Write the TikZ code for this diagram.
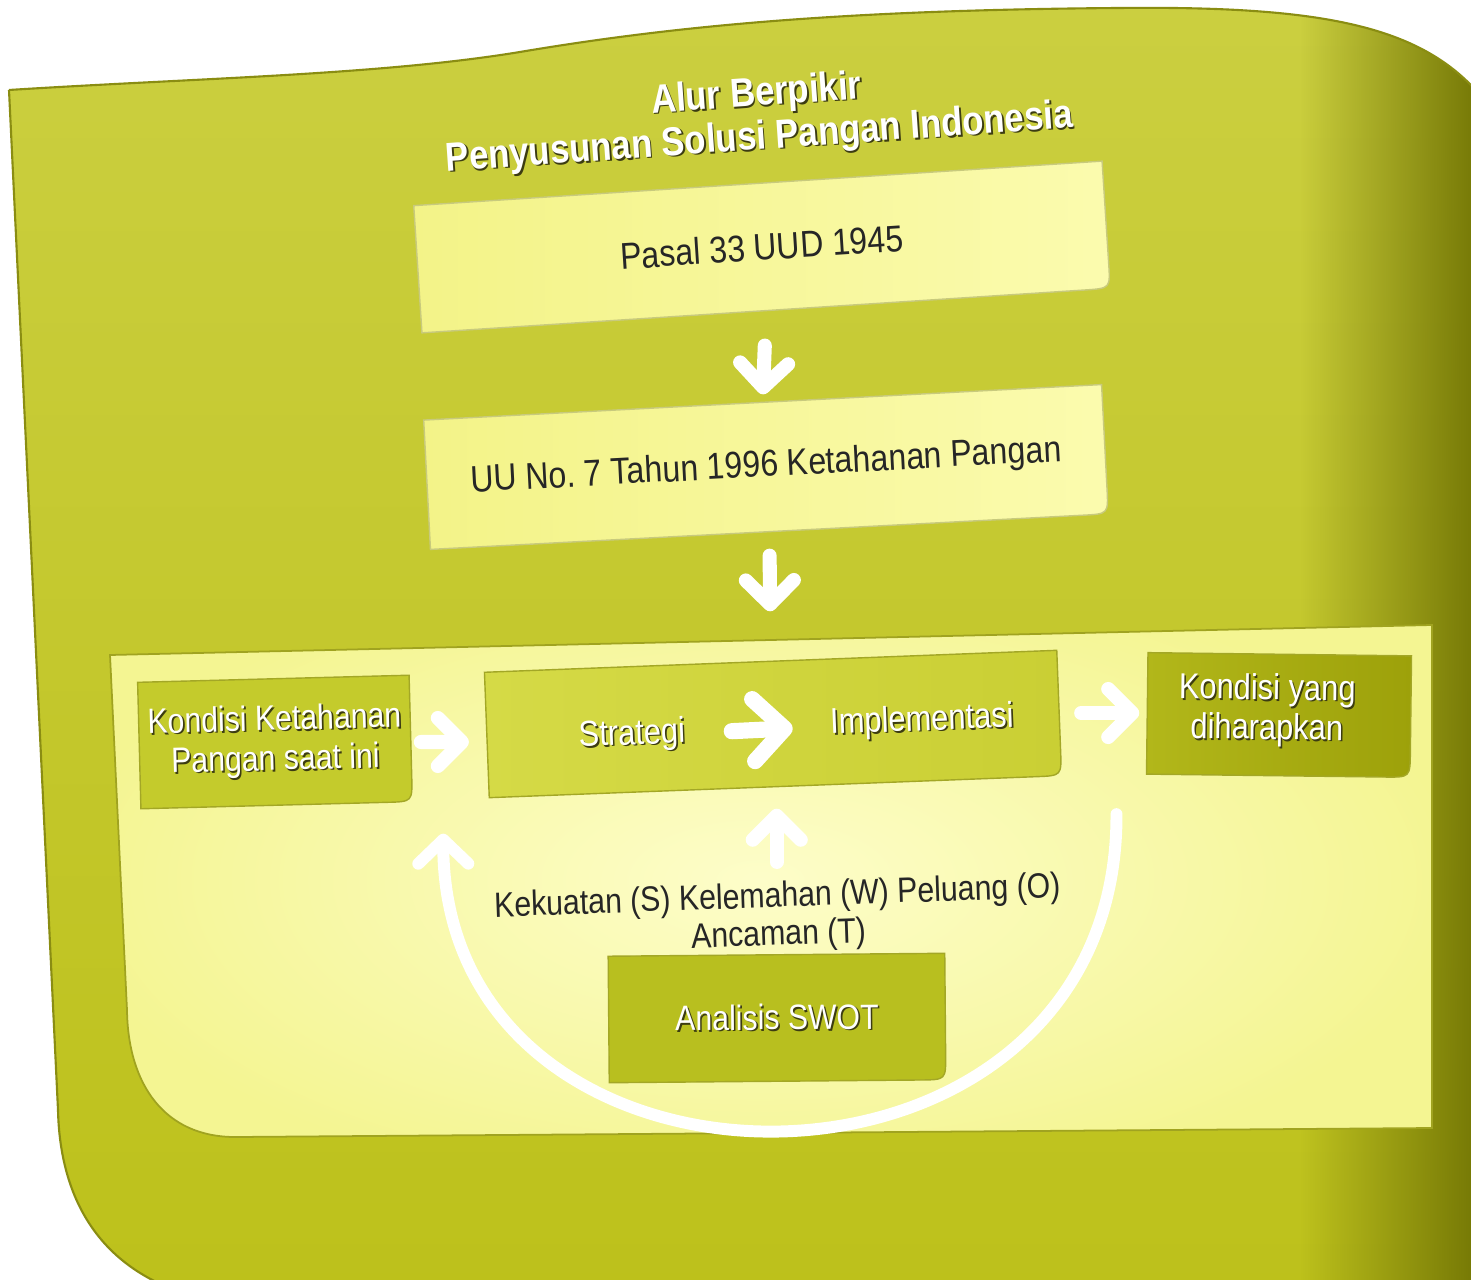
\documentclass[tikz,border=0pt]{standalone}
\usepackage{fontspec}
\setmainfont{Liberation Sans}[FakeStretch=0.86]
\usetikzlibrary{arrows.meta,calc,fadings}
\definecolor{outerA}{HTML}{CBCF40}
\definecolor{outerB}{HTML}{BDC11B}
\definecolor{darkG}{HTML}{747705}
\definecolor{outerline}{HTML}{8A8D12}
\definecolor{panelc}{HTML}{F4F592}
\definecolor{glowc}{HTML}{FDFDC9}
\definecolor{panelline}{HTML}{A0A320}
\definecolor{topA}{HTML}{F3F388}
\definecolor{topB}{HTML}{FBFBAE}
\definecolor{boxline}{HTML}{A3A726}
\definecolor{kondc}{HTML}{C4CB2C}
\definecolor{stratA}{HTML}{D5DA46}
\definecolor{stratB}{HTML}{CACF34}
\definecolor{harapA}{HTML}{B2B71A}
\definecolor{harapB}{HTML}{9DA10A}
\definecolor{swotc}{HTML}{B8BF1F}
\definecolor{txtc}{HTML}{262626}
\definecolor{shadowc}{HTML}{3C3C12}
\tikzfading[name=fadeR, left color=transparent!100, right color=transparent!0]
\pgfdeclarelayer{bottom}
\pgfdeclarelayer{background}
\pgfsetlayers{bottom,background,main}
\newcommand\shd[1]{\leavevmode\rlap{\kern0.45pt\raisebox{-0.45pt}{\textcolor{shadowc}{#1}}}#1}
\newcommand\mybox[2]{\path[#2] (#1.north west) -- (#1.north east) -- ($(#1.south east)!2.5mm!(#1.north east)$) .. controls (#1.south east) .. ($(#1.south east)!2.5mm!(#1.south west)$) -- (#1.south west) -- cycle;}
\tikzset{
  titletext/.style={text=white, font=\bfseries\fontsize{11.5}{12.4}\selectfont, align=center, inner sep=0pt},
  topbox/.style={inner sep=0pt, text=txtc, font=\fontsize{10.6}{12}\selectfont},
  smallbox/.style={inner sep=0pt, text=white, font=\fontsize{10}{11.3}\selectfont, align=center},
  smalltext/.style={inner sep=0pt, text=white, font=\fontsize{10.2}{11.3}\selectfont, align=center},
  darktext/.style={inner sep=0pt, text=txtc, font=\fontsize{10}{10.8}\selectfont, align=center},
  bigarrow/.style={draw=white, line width=4pt, line cap=round, line join=round,
     -{Straight Barb[round, length=2.4mm, width=4.8mm]}},
  hugearrow/.style={draw=white, line width=4.6pt, line cap=round, line join=round,
     -{Straight Barb[round, length=3.1mm, width=6.2mm]}},
  arcarrow/.style={draw=white, line width=3.4pt, line cap=round, line join=round,
     -{Straight Barb[round, length=2.4mm, width=5mm]}},
}
\begin{document}
\begin{tikzpicture}[x=0.01cm, y=-0.01cm]
\useasboundingbox (0,0) rectangle (1471,1280);

% ---- nodes ----
\node[titletext, rotate=4] (title) at (758,118) {\shd{Alur Berpikir}\\\shd{Penyusunan Solusi Pangan Indonesia}};
\node[topbox, minimum width=6.88cm, minimum height=1.26cm, rotate=3.7] (box1) at (762,247) {Pasal 33 UUD 1945};
\node[topbox, minimum width=6.77cm, minimum height=1.28cm, rotate=3.0] (box2) at (766,467) {UU No.\ 7 Tahun 1996 Ketahanan Pangan};
\node[smallbox, minimum width=2.7cm, minimum height=1.25cm, rotate=1.5] (kond) at (275,742) {\shd{Kondisi Ketahanan}\\\shd{Pangan saat ini}};
\node[smallbox, minimum width=5.71cm, minimum height=1.24cm, rotate=2.2] (strat) at (773,724) {};
\node[smalltext, rotate=2.2] (strg) at (632,736) {\shd{Strategi}};
\node[smalltext, rotate=2.2] (impl) at (922,722) {\shd{Implementasi}};
\node[smallbox, minimum width=2.62cm, minimum height=1.2cm, rotate=-0.7] (harap) at (1279,715) {};
\node[smalltext, rotate=-0.7] (harapt) at (1267,711) {\shd{Kondisi yang}\\\shd{diharapkan}};
\node[darktext, rotate=2] (swotl) at (778,917) {Kekuatan (S) Kelemahan (W) Peluang (O)\\Ancaman (T)};
\node[smallbox, minimum width=3.35cm, minimum height=1.25cm, rotate=0.5] (swot) at (777,1018) {\shd{Analisis SWOT}};

% ---- page background ----
\begin{pgfonlayer}{bottom}
  \fill[white] (0,0) rectangle (1471,1280);
  \begin{scope}
    \clip (0,0) rectangle (1471,1280);
    \begin{scope}
      \clip (9,90) .. controls (200,78) and (380,75) .. (520,52)
        .. controls (680,25) and (850,10) .. (1120,8)
        .. controls (1320,6) and (1420,25) .. (1480,95)
        -- (1480,1290) -- (175,1290) .. controls (100,1262) and (60,1200) .. (58,1110) -- cycle;
      \shade[top color=outerA, bottom color=outerB] (0,0) rectangle (1480,1290);
      \fill[darkG, path fading=fadeR] (1300,0) rectangle (1480,1290);
    \end{scope}
    \draw[outerline, line width=0.6pt] (9,90) .. controls (200,78) and (380,75) .. (520,52)
        .. controls (680,25) and (850,10) .. (1120,8)
        .. controls (1320,6) and (1420,25) .. (1480,95);
    \draw[outerline, line width=0.6pt] (175,1290) .. controls (100,1262) and (60,1200) .. (58,1110) -- (9,90);
    % light panel
    \begin{scope}
      \clip (110,655) -- (1432,625) -- (1432,1128) -- (235,1137) .. controls (165,1137) and (128,1085) .. (127,1010) -- cycle;
      \fill[panelc] (100,600) rectangle (1440,1140);
      \shade[inner color=glowc, outer color=panelc] (760,880) ellipse (7cm and 3.2cm);
    \end{scope}
    \draw[panelline, line width=0.5pt] (110,655) -- (1432,625) -- (1432,1128) -- (235,1137) .. controls (165,1137) and (128,1085) .. (127,1010) -- cycle;
  \end{scope}
\end{pgfonlayer}

% ---- box fills ----
\begin{pgfonlayer}{background}
  \mybox{box1}{left color=topA, right color=topB, draw=boxline!60, line width=0.4pt}
  \mybox{box2}{left color=topA, right color=topB, draw=boxline!60, line width=0.4pt}
  \mybox{kond}{fill=kondc, draw=boxline, line width=0.4pt}
  \mybox{strat}{left color=stratA, right color=stratB, draw=boxline, line width=0.4pt}
  \mybox{harap}{left color=harapA, right color=harapB, draw=boxline, line width=0.4pt}
  \mybox{swot}{fill=swotc, draw=boxline, line width=0.4pt}
\end{pgfonlayer}

% ---- connectors ----
\draw[bigarrow, shorten <=3.5mm, shorten >=0.8mm] (box1.south) -- (box2.north);
\draw[bigarrow, shorten <=2.4mm, shorten >=5mm] (box2.south) -- (strat.north);
\draw[bigarrow, shorten <=1mm, shorten >=1.8mm] (kond) -- (kond -| strat.west);
\draw[hugearrow, shorten <=4.6mm, shorten >=3.7mm] (strg) -- (impl);
\draw[bigarrow, shorten <=2.2mm, shorten >=0.8mm] (strat.east) -- (strat.east -| harap.west);
\draw[bigarrow, shorten <=1.9mm, shorten >=2.2mm] (swotl.north) -- (swotl.north |- strat.south);
\draw[arcarrow] ([xshift=-3mm,yshift=-4mm]harap.south west) .. controls (1118,1232) and (444,1232) .. ([xshift=-4.6mm,yshift=-3.6mm]strat.south west);
\end{tikzpicture}
\end{document}
